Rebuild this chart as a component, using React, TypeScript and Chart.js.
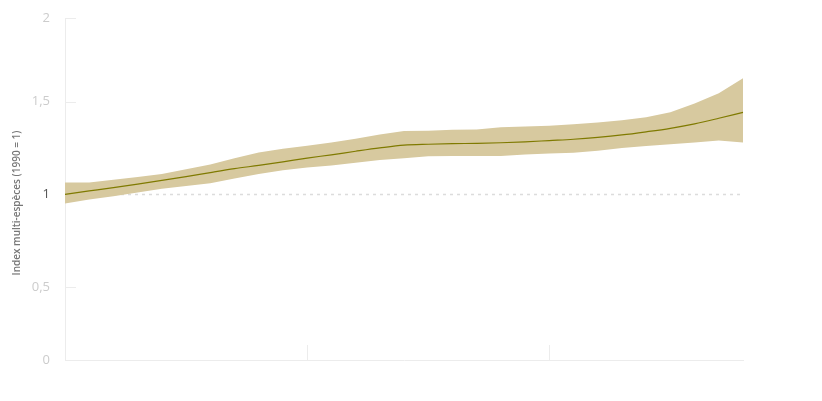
import React, { useEffect, useRef } from "react";
import { Chart, registerables } from "chart.js";

Chart.register(...registerables);

const years = [
  "1990", "1991", "1992", "1993", "1994", "1995", "1996", "1997", "1998", "1999",
  "2000", "2001", "2002", "2003", "2004", "2005", "2006", "2007", "2008", "2009",
  "2010", "2011", "2012", "2013", "2014", "2015", "2016", "2017", "2018",
];

const indexMean = [
  1.0, 1.018, 1.036, 1.055, 1.075, 1.095, 1.117, 1.138, 1.156, 1.175,
  1.195, 1.213, 1.232, 1.25, 1.265, 1.27, 1.273, 1.275, 1.278, 1.283,
  1.29, 1.297, 1.307, 1.32, 1.337, 1.356, 1.38, 1.41, 1.442,
];

const bandUpper = [
  1.063, 1.063, 1.078, 1.093, 1.11, 1.135, 1.16, 1.195, 1.225, 1.245,
  1.262, 1.28, 1.3, 1.322, 1.342, 1.343, 1.348, 1.35, 1.362, 1.365,
  1.37, 1.378, 1.387, 1.4, 1.415, 1.442, 1.49, 1.545, 1.626,
];

const bandLower = [
  0.95, 0.972, 0.99, 1.01, 1.03, 1.045, 1.06, 1.085, 1.11, 1.13,
  1.145, 1.155, 1.17, 1.185, 1.195, 1.205, 1.207, 1.207, 1.207, 1.215,
  1.22, 1.224, 1.235, 1.25, 1.26, 1.27, 1.28, 1.29, 1.28,
];

const yMin = 0.106;
const yMax = 1.951;
const yTickValues = [yMin, 0.5, 1, 1.5, yMax];
const yTickLabels = ["0", "0,5", "1", "1,5", "2"];
const xTickYears = ["2000", "2010"];
const yTitle = "Index multi-espèces (1990 = 1)";

const guidePlugin = {
  id: "guides",
  beforeDatasetsDraw(chart: any) {
    const { ctx, chartArea, scales } = chart;
    const y = scales.y;
    const x = scales.x;
    ctx.save();
    ctx.strokeStyle = "#dcdcdc";
    ctx.lineWidth = 1.5;
    ctx.setLineDash([3, 4]);
    const y1 = Math.round(y.getPixelForValue(1)) + 0.5;
    ctx.beginPath();
    ctx.moveTo(chartArea.left, y1);
    ctx.lineTo(chartArea.right, y1);
    ctx.stroke();
    ctx.setLineDash([]);
    ctx.strokeStyle = "#ececec";
    ctx.lineWidth = 1;
    [0.5, 1.5, yMax].forEach((v) => {
      const py = Math.round(y.getPixelForValue(v)) + 0.5;
      ctx.beginPath();
      ctx.moveTo(chartArea.left, py);
      ctx.lineTo(chartArea.left + 11, py);
      ctx.stroke();
    });
    xTickYears.forEach((yr) => {
      const px = Math.round(x.getPixelForValue(years.indexOf(yr))) + 0.5;
      ctx.beginPath();
      ctx.moveTo(px, chartArea.bottom);
      ctx.lineTo(px, chartArea.bottom - 15);
      ctx.stroke();
    });
    ctx.restore();
  },
  afterDraw(chart: any) {
    const { ctx } = chart;
    ctx.save();
    ctx.translate(17, 203);
    ctx.rotate(-Math.PI / 2);
    ctx.font = "600 10px 'Open Sans'";
    ctx.fillStyle = "#777777";
    ctx.textAlign = "center";
    ctx.textBaseline = "middle";
    ctx.fillText(yTitle, 0, 0);
    ctx.restore();
  },
};

export default function App() {
  const canvasRef = useRef<HTMLCanvasElement | null>(null);

  useEffect(() => {
    if (!canvasRef.current) return;
    const chart = new Chart(canvasRef.current, {
      type: "line",
      data: {
        labels: years,
        datasets: [
          {
            label: "upper",
            data: bandUpper,
            borderWidth: 0,
            pointRadius: 0,
            backgroundColor: "#d7c99f",
            fill: "+1",
            tension: 0,
            order: 2,
          },
          {
            label: "lower",
            data: bandLower,
            borderWidth: 0,
            pointRadius: 0,
            backgroundColor: "#d7c99f",
            fill: false,
            tension: 0,
            order: 2,
          },
          {
            label: "index",
            data: indexMean,
            borderColor: "#7f7a00",
            borderWidth: 1.2,
            pointRadius: 0,
            fill: false,
            cubicInterpolationMode: "monotone",
            order: 1,
          },
        ],
      },
      options: {
        animation: false,
        responsive: true,
        maintainAspectRatio: false,
        layout: { padding: { left: 0, right: 79, top: 18, bottom: 33 } },
        plugins: { legend: { display: false }, tooltip: { enabled: false } },
        scales: {
          x: {
            type: "category",
            offset: false,
            grid: { display: false },
            border: { display: true, color: "#ececec" },
            ticks: { display: false, padding: 0 },
          },
          y: {
            min: yMin,
            max: yMax,
            afterBuildTicks: (scale: any) => {
              scale.ticks = yTickValues.map((v) => ({ value: v }));
            },
            afterFit: (scale: any) => {
              scale.width = 65;
              scale.paddingTop = 0;
            },
            grid: { display: false, drawTicks: false },
            border: { display: true, color: "#ececec" },
            ticks: {
              padding: 15,
              font: { family: "'Open Sans'", size: 13 },
              color: (ctx: any) => (ctx.tick && ctx.tick.value === 1 ? "#555555" : "#cccccc"),
              callback: (value: any) => {
                const i = yTickValues.indexOf(Number(value));
                return i >= 0 ? yTickLabels[i] : "";
              },
            },
          },
        },
      },
      plugins: [guidePlugin],
    });
    return () => chart.destroy();
  }, []);

  return (
    <div style={{ position: "absolute", left: 0, top: 0, width: 822, height: 401 }}>
      <canvas ref={canvasRef} />
    </div>
  );
}
